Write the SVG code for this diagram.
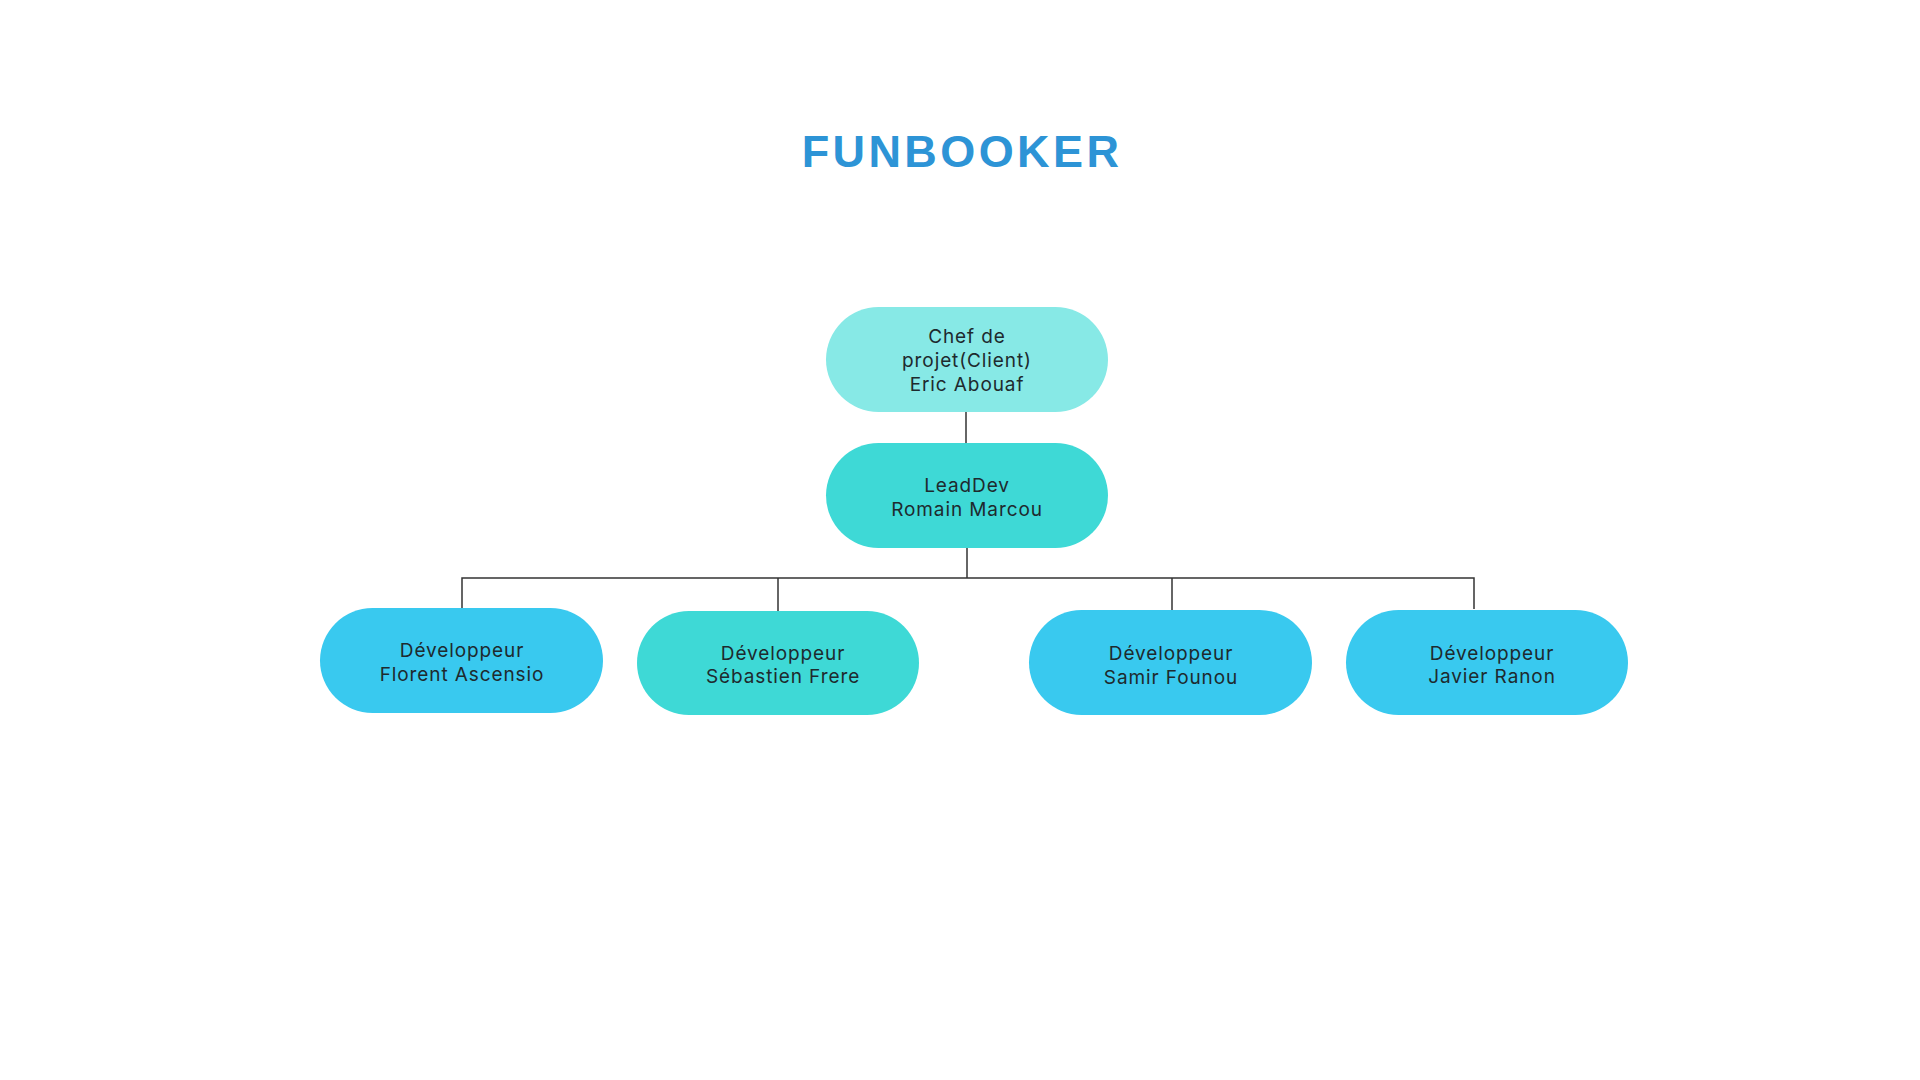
<svg xmlns="http://www.w3.org/2000/svg" width="1920" height="1080" viewBox="0 0 1920 1080">
<style>
.title{font-family:"Liberation Sans",Arial,sans-serif;font-weight:bold;font-size:45px;letter-spacing:3.4px;fill:#2d94d6;text-anchor:middle}
.lbl{font-family:Inter,"Liberation Sans",sans-serif;font-size:19px;letter-spacing:0.9px;fill:#1e2a2e;text-anchor:middle}
.conn{stroke:#333;stroke-width:1.5;fill:none}
.light{fill:#87e9e6}
.teal{fill:#3ed9d6}
.blue{fill:#39c9ef}
</style>
<rect width="1920" height="1080" fill="#fff"/>
<text class="title" x="962" y="167">FUNBOOKER</text>
<g id="connectors">
<path class="conn" d="M966 412V443"/>
<path class="conn" d="M967 548V578"/>
<path class="conn" d="M462 609V578H1474V609"/>
<path class="conn" d="M778 578V611"/>
<path class="conn" d="M1172 578V610"/>
</g>
<g id="chef">
<rect class="light" x="826" y="307" width="282" height="105" rx="52.5"/>
<text class="lbl" x="967" y="343">Chef de</text>
<text class="lbl" x="967" y="367">projet(Client)</text>
<text class="lbl" x="967" y="391">Eric Abouaf</text>
</g>
<g id="leaddev">
<rect class="teal" x="826" y="443" width="282" height="105" rx="52.5"/>
<text class="lbl" x="967" y="492">LeadDev</text>
<text class="lbl" x="967" y="516">Romain Marcou</text>
</g>
<g id="dev1">
<rect class="blue" x="320" y="608" width="283" height="105" rx="52.5"/>
<text class="lbl" x="462" y="657">Développeur</text>
<text class="lbl" x="462" y="681">Florent Ascensio</text>
</g>
<g id="dev2">
<rect class="teal" x="637" y="611" width="282" height="104" rx="52"/>
<text class="lbl" x="783" y="660">Développeur</text>
<text class="lbl" x="783" y="683">Sébastien Frere</text>
</g>
<g id="dev3">
<rect class="blue" x="1029" y="610" width="283" height="105" rx="52.5"/>
<text class="lbl" x="1171" y="660">Développeur</text>
<text class="lbl" x="1171" y="684">Samir Founou</text>
</g>
<g id="dev4">
<rect class="blue" x="1346" y="610" width="282" height="105" rx="52.5"/>
<text class="lbl" x="1492" y="660">Développeur</text>
<text class="lbl" x="1492" y="683">Javier Ranon</text>
</g>
</svg>
